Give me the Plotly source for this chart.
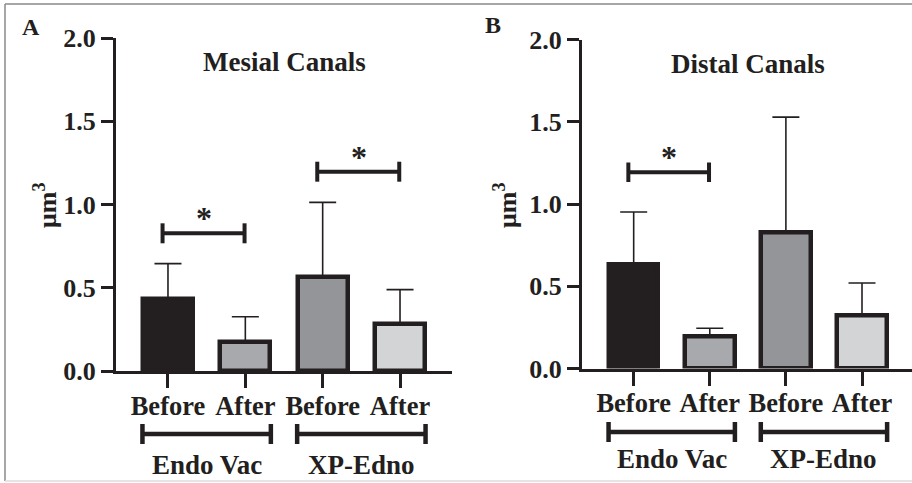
import plotly.graph_objects as go

# ---- data ----
categories = ["Before", "After", "Before", "After"]
groups = ["Endo Vac", "XP-Edno"]
mesial_mean = [0.435, 0.172, 0.566, 0.283]
mesial_err = [0.210, 0.154, 0.447, 0.206]
distal_mean = [0.634, 0.195, 0.829, 0.324]
distal_err = [0.317, 0.050, 0.699, 0.196]
bar_colors = ["#231f20", "#a7a9ac", "#939598", "#d3d4d6"]
y_ticks = [0.0, 0.5, 1.0, 1.5, 2.0]
y_ticklabels = ["0.0", "0.5", "1.0", "1.5", "2.0"]
mesial_sig = [(0, 1, 0.827), (2, 3, 1.197)]  # (from, to, height)
distal_sig = [(0, 1, 1.193)]

DARK = "#231f20"
FONT = "Liberation Serif"
xpos = list(range(len(categories)))

fig = go.Figure()


def add_panel(means, errs, xa, ya):
    fig.add_trace(go.Bar(
        x=xpos, y=means, width=0.65,
        marker=dict(color=bar_colors, line=dict(color=DARK, width=4.5)),
        error_y=dict(type="data", symmetric=False, array=errs,
                     arrayminus=[0] * len(errs), color=DARK,
                     thickness=1.6, width=13.5),
        xaxis=xa, yaxis=ya, showlegend=False, hoverinfo="skip",
    ))


add_panel(mesial_mean, mesial_err, "x", "y")
add_panel(distal_mean, distal_err, "x2", "y2")

axis_common = dict(showline=True, linecolor=DARK, linewidth=3,
                   ticks="outside", tickcolor=DARK, tickwidth=3,
                   showgrid=False, zeroline=False, automargin=False)
xfont = dict(family=FONT, size=26.5, color=DARK, weight="bold")
yfont = dict(family=FONT, size=26, color=DARK, weight="bold")

fig.update_layout(
    template="none",
    width=912, height=483, autosize=False,
    margin=dict(l=0, r=0, t=0, b=0, pad=0, autoexpand=False),
    paper_bgcolor="white", plot_bgcolor="rgba(0,0,0,0)",
    bargap=0,
    xaxis=dict(domain=[116 / 912, 452 / 912], range=[-0.672, 3.672],
               tickvals=xpos, ticktext=categories, ticklen=14, tickfont=xfont,
               ticklabelstandoff=-5, **axis_common),
    yaxis=dict(domain=[(483 - 371) / 483, (483 - 38) / 483], range=[0, 2],
               tickvals=y_ticks, ticktext=y_ticklabels, ticklen=12, tickfont=yfont,
               **axis_common),
    xaxis2=dict(domain=[582 / 912, 1.0], range=[-0.679, 3.657], anchor="y2",
                tickvals=xpos, ticktext=categories, ticklen=14, tickfont=xfont,
                ticklabelstandoff=-5, **axis_common),
    yaxis2=dict(domain=[(483 - 368.5) / 483, (483 - 39.5) / 483], range=[0, 2],
                anchor="x2", tickvals=y_ticks, ticktext=y_ticklabels, ticklen=12,
                tickfont=yfont, **axis_common),
)

shapes = []
annotations = []


def sig_bracket(xr, yr, a, b, h):
    shapes.append(dict(type="line", xref=xr, yref=yr, x0=a - 0.07, x1=b - 0.01,
                       y0=h, y1=h, line=dict(color=DARK, width=4)))
    for xx in (a - 0.07, b - 0.01):
        shapes.append(dict(type="line", xref=xr, yref=yr, x0=xx, x1=xx,
                           y0=h - 0.06, y1=h + 0.06, line=dict(color=DARK, width=4)))
    annotations.append(dict(xref=xr, yref=yr, x=(a + b) / 2 - 0.03, y=h - 0.03,
                            text="<b>*</b>", showarrow=False, yanchor="bottom",
                            xanchor="center",
                            font=dict(family=FONT, size=32, color=DARK)))


for a, b, h in mesial_sig:
    sig_bracket("x", "y", a, b, h)
for a, b, h in distal_sig:
    sig_bracket("x2", "y2", a, b, h)


def group_brackets(xr, ybr, ylab):
    for gi, g in enumerate(groups):
        a, b = 2 * gi - 0.33, 2 * gi + 1 + 0.33
        shapes.append(dict(type="line", xref=xr, yref="paper", x0=a, x1=b,
                           y0=ybr, y1=ybr, line=dict(color=DARK, width=4.5)))
        for xx in (a, b):
            shapes.append(dict(type="line", xref=xr, yref="paper", x0=xx, x1=xx,
                               y0=ybr - 10 / 483, y1=ybr + 10 / 483,
                               line=dict(color=DARK, width=4.5)))
        annotations.append(dict(xref=xr, yref="paper", x=2 * gi + 0.5, y=ylab,
                                text="<b>%s</b>" % g, showarrow=False,
                                xanchor="center", yanchor="middle",
                                font=dict(family=FONT, size=27, color=DARK)))


group_brackets("x", (483 - 434) / 483, (483 - 465) / 483)
group_brackets("x2", (483 - 432) / 483, (483 - 459) / 483)

# titles and labels
for txt, x, y, s in [("<b>Mesial Canals</b>", 284, 62, 27),
                     ("<b>Distal Canals</b>", 748, 64, 27),
                     ("<b>A</b>", 31, 27, 24), ("<b>B</b>", 493, 25, 24)]:
    annotations.append(dict(xref="paper", yref="paper", x=x / 912, y=(483 - y) / 483,
                            text=txt, showarrow=False, xanchor="center", yanchor="middle",
                            font=dict(family=FONT, size=s, color=DARK)))
for x in (46, 506):
    annotations.append(dict(xref="paper", yref="paper", x=x / 912, y=(483 - 205) / 483,
                            text="<b>μm<sup>3</sup></b>", showarrow=False, textangle=-90,
                            xanchor="center", yanchor="middle",
                            font=dict(family=FONT, size=26, color=DARK)))

# outer frame
shapes.append(dict(type="line", xref="paper", yref="paper", x0=5 / 912, x1=1,
                   y0=(483 - 4) / 483, y1=(483 - 4) / 483, line=dict(color="#8a8a8a", width=1.5)))
shapes.append(dict(type="line", xref="paper", yref="paper", x0=5 / 912, x1=5 / 912,
                   y0=(483 - 481) / 483, y1=(483 - 4) / 483, line=dict(color="#8a8a8a", width=1.5)))
shapes.append(dict(type="line", xref="paper", yref="paper", x0=5 / 912, x1=1,
                   y0=(483 - 481) / 483, y1=(483 - 481) / 483, line=dict(color="#dcdcdc", width=1.5)))

fig.update_layout(shapes=shapes, annotations=annotations)
fig.write_html("out.html", config={"displayModeBar": False},
               post_script="document.body.style.margin='0px';document.body.style.overflow='hidden';")
